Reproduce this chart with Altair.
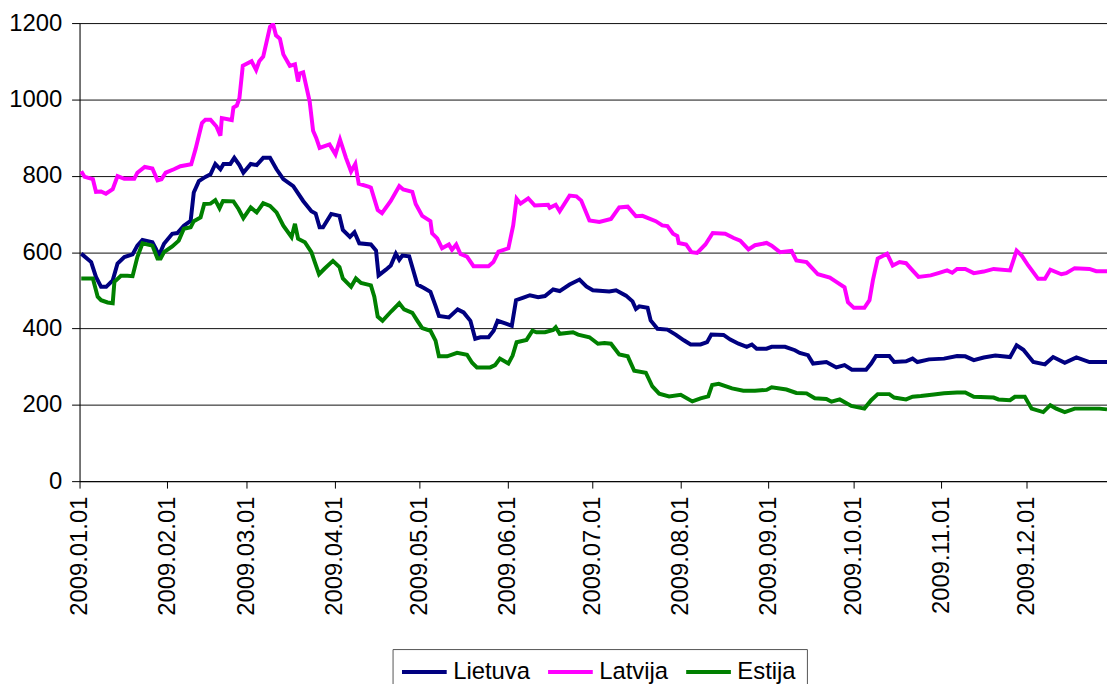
import altair as alt
import pandas as pd

# Day offsets from 2009-01-01 and values
lt_day = [0.6, 4.1, 5.8, 7.6, 9.4, 11.7, 13.4, 15.8, 18.7, 20.4, 22.2, 25.7, 26.9, 28.0, 29.8, 32.7, 34.5, 36.8, 39.2, 40.3,
          42.1, 44.4, 46.2, 47.9, 49.7, 50.8, 53.2, 54.6, 56.4, 57.8, 60.4, 62.5, 64.8, 67.2, 69.5, 71.9, 75.4, 78.9, 81.8, 83.3,
          84.7, 85.9, 88.8, 91.7, 92.9, 95.4, 97.0, 98.7, 102.8, 104.6, 105.5, 108.1, 109.8, 111.6, 112.8, 113.9, 116.3, 117.4, 119.2, 121.5,
          123.8, 125.6, 126.8, 130.3, 133.4, 135.5, 137.9, 139.6, 141.4, 144.3, 146.1, 147.5, 150.2, 152.5, 154.0, 156.6, 158.9, 161.8, 164.2, 167.1,
          169.4, 172.9, 176.4, 178.8, 181.1, 186.9, 189.3, 192.8, 195.1, 196.3, 197.5, 200.4, 201.5, 203.9, 207.4, 210.3, 213.2, 215.6, 219.1, 221.4,
          222.9, 227.2, 229.6, 232.5, 235.4, 237.2, 238.9, 242.4, 244.2, 248.9, 252.4, 254.1, 257.0, 258.8, 263.5, 267.0, 269.9, 272.5, 277.5, 279.3,
          281.0, 285.7, 287.4, 291.6, 293.9, 295.6, 299.7, 305.0, 309.6, 312.5, 315.5, 319.0, 323.1, 328.3, 330.6, 333.0, 336.5, 340.6, 343.5, 347.6,
          351.7, 356.3, 362.5]
lt_val = [596, 574, 535, 509, 509, 526, 570, 587, 594, 617, 632, 626, 609, 591, 622, 648, 650, 669, 682, 756,
          786, 797, 804, 831, 817, 831, 831, 847, 828, 808, 831, 828, 847, 847, 817, 791, 773, 734, 707, 701,
          665, 665, 700, 695, 658, 640, 652, 623, 620, 604, 539, 554, 565, 596, 580, 591, 589, 561, 515, 506,
          496, 459, 433, 429, 450, 442, 420, 373, 377, 377, 394, 420, 413, 407, 474, 481, 487, 482, 485, 502,
          498, 515, 528, 510, 500, 497, 500, 486, 471, 451, 458, 454, 421, 399, 397, 384, 369, 358, 358, 364,
          384, 383, 371, 360, 352, 358, 347, 347, 352, 352, 343, 336, 330, 308, 312, 298, 304, 292, 292, 308,
          328, 328, 312, 314, 321, 312, 319, 321, 328, 327, 317, 324, 329, 325, 356, 344, 312, 306, 325, 310,
          324, 312, 312]

lv_day = [0.6, 1.8, 4.7, 5.8, 7.6, 9.3, 11.7, 13.4, 15.8, 19.3, 20.4, 23.0, 25.7, 27.5, 28.9, 30.4, 33.3, 35.6, 39.4, 40.9,
          43.2, 44.4, 46.2, 48.3, 49.7, 50.2, 53.7, 54.3, 55.5, 56.4, 57.6, 60.7, 62.3, 63.4, 64.8, 67.2, 68.3, 69.3, 70.7, 71.9,
          74.2, 76.0, 77.1, 77.7, 78.9, 81.2, 82.4, 83.5, 84.7, 88.2, 90.3, 91.9, 94.0, 95.8, 97.3, 98.5, 102.2, 102.8, 105.2, 106.7,
          109.8, 112.8, 114.2, 117.4, 118.6, 120.9, 123.8, 124.4, 126.2, 127.9, 130.3, 131.4, 132.9, 134.4, 136.7, 139.0, 144.3, 146.0, 147.8, 151.3,
          153.0, 154.2, 155.6, 158.3, 160.6, 165.3, 165.9, 168.0, 169.4, 172.9, 175.3, 177.0, 179.9, 183.4, 187.5, 190.4, 193.4, 196.3, 198.6, 203.3,
          205.6, 207.4, 209.4, 210.9, 211.4, 214.0, 215.9, 217.9, 220.8, 223.4, 227.8, 230.8, 233.1, 236.0, 238.3, 242.4, 244.2, 247.1, 251.2, 252.9,
          256.5, 260.5, 264.7, 267.0, 269.9, 271.1, 273.2, 276.9, 278.7, 279.9, 281.6, 284.9, 286.9, 289.3, 291.6, 293.4, 296.0, 300.3, 303.0, 306.1,
          307.9, 309.6, 312.5, 315.5, 319.0, 322.5, 328.3, 330.6, 332.4, 334.7, 338.2, 340.6, 342.5, 346.4, 348.1, 351.1, 356.3, 358.7, 362.5]
lv_val = [812, 797, 791, 758, 759, 753, 765, 799, 792, 792, 808, 823, 819, 788, 791, 808, 817, 825, 830, 869,
          938, 947, 947, 929, 905, 951, 946, 979, 984, 1003, 1088, 1100, 1077, 1100, 1112, 1190, 1197, 1168, 1159, 1118,
          1088, 1092, 1047, 1068, 1071, 994, 918, 899, 873, 882, 856, 895, 847, 811, 831, 779, 771, 769, 710, 702,
          734, 773, 764, 758, 726, 695, 681, 649, 636, 610, 620, 606, 620, 595, 588, 563, 563, 574, 601, 610,
          670, 740, 727, 741, 722, 724, 716, 724, 707, 748, 746, 735, 683, 679, 687, 717, 719, 694, 695, 681,
          670, 668, 648, 642, 624, 620, 600, 598, 620, 650, 648, 637, 630, 607, 618, 624, 617, 600, 603, 578,
          574, 542, 533, 522, 508, 469, 454, 454, 474, 526, 583, 596, 565, 574, 571, 556, 535, 539, 545, 552,
          546, 556, 556, 545, 549, 556, 552, 604, 591, 565, 530, 530, 554, 542, 545, 558, 556, 550, 550]

ee_day = [0.6, 4.7, 6.4, 7.6, 9.9, 11.7, 12.3, 14.6, 16.9, 18.7, 20.4, 22.2, 25.7, 27.5, 28.6, 29.8, 32.7, 35.0, 36.8, 39.2,
          40.3, 42.7, 44.0, 46.2, 47.9, 49.4, 50.6, 54.3, 56.1, 57.8, 60.4, 62.5, 64.8, 67.2, 69.5, 71.9, 74.8, 76.0, 77.1, 79.5,
          81.8, 83.0, 84.5, 86.5, 89.4, 91.7, 92.9, 95.8, 97.5, 99.3, 102.8, 104.0, 105.2, 106.9, 110.0, 112.8, 114.5, 117.4, 119.2, 120.9,
          123.8, 125.6, 126.8, 129.7, 133.2, 136.7, 138.5, 140.2, 144.9, 146.6, 148.3, 151.3, 152.8, 154.2, 157.7, 159.8, 161.2, 164.2, 167.1, 168.0,
          169.4, 174.1, 175.9, 179.9, 182.9, 185.2, 187.5, 190.4, 193.4, 195.7, 199.8, 202.1, 204.5, 208.0, 212.1, 216.2, 219.1, 221.8, 223.2, 225.5,
          230.2, 234.2, 238.3, 242.4, 244.2, 249.4, 252.9, 256.5, 259.4, 263.5, 265.3, 268.2, 272.3, 276.9, 279.3, 281.6, 285.7, 287.4, 291.6, 293.9,
          296.8, 301.4, 305.0, 309.6, 312.5, 315.5, 322.5, 324.2, 328.3, 330.0, 333.5, 335.9, 340.0, 342.5, 344.6, 347.6, 351.1, 359.8, 362.5]
ee_val = [531, 531, 483, 474, 468, 466, 522, 538, 538, 537, 587, 623, 617, 583, 583, 600, 615, 630, 661, 665,
          681, 691, 726, 727, 736, 715, 734, 733, 713, 689, 717, 704, 728, 721, 704, 669, 639, 674, 635, 626,
          600, 574, 542, 557, 577, 561, 531, 509, 531, 519, 513, 483, 431, 420, 445, 466, 450, 441, 420, 401,
          394, 368, 327, 327, 336, 331, 310, 298, 298, 304, 321, 308, 329, 364, 370, 394, 390, 390, 396, 403,
          386, 390, 384, 377, 360, 362, 360, 332, 327, 289, 284, 248, 229, 222, 226, 209, 217, 222, 252, 255,
          243, 237, 237, 239, 246, 240, 231, 230, 217, 215, 208, 214, 197, 190, 212, 228, 228, 219, 214, 221,
          223, 227, 230, 232, 232, 221, 219, 214, 212, 221, 221, 190, 181, 199, 190, 181, 190, 190, 188]

series_names = ["Lietuva", "Latvija", "Estija"]
series_colors = ["#000080", "#FF00FF", "#008000"]
y_ticks = [0, 200, 400, 600, 800, 1000, 1200]

base = pd.Timestamp("2009-01-01", tz="UTC")


def to_ms(d):
    return int((base + pd.Timedelta(days=d)).value // 10**6)


rows = []
for name, days, vals in [("Lietuva", lt_day, lt_val), ("Latvija", lv_day, lv_val), ("Estija", ee_day, ee_val)]:
    for d, v in zip(days, vals):
        rows.append({"series": name, "t": to_ms(d), "value": v})
df = pd.DataFrame(rows)

month_ticks = [int(pd.Timestamp(f"2009-{m:02d}-01", tz="UTC").value // 10**6) for m in range(1, 13)]
x_domain = [to_ms(0), to_ms(362.5)]

FONT = "Liberation Sans"

chart = alt.Chart(df).mark_line(strokeWidth=4, clip=True).encode(
    x=alt.X("t:T", title=None,
            scale=alt.Scale(type="utc", domain=x_domain, nice=False),
            axis=alt.Axis(values=month_ticks, labelExpr="utcFormat(datum.value, '%Y.%m.%d')",
                          labelAngle=270, labelFontSize=24, labelFont=FONT, labelColor="#000",
                          tickSize=7, tickColor="#000", domainColor="#000", labelPadding=8,
                          grid=False, labelOverlap=False, labelFlush=False)),
    y=alt.Y("value:Q", title=None,
            scale=alt.Scale(domain=[0, 1200], nice=False),
            axis=alt.Axis(values=y_ticks, format="d", labelFontSize=24, labelFont=FONT, labelColor="#000",
                          tickSize=8, tickColor="#000", domainColor="#000", labelPadding=10,
                          grid=True, gridColor="#111", gridWidth=1, gridOpacity=1)),
    color=alt.Color("series:N", sort=series_names,
                    scale=alt.Scale(domain=series_names, range=series_colors),
                    legend=alt.Legend(title=None, orient="none", direction="horizontal",
                                      legendX=315, legendY=630,
                                      symbolType="M-2.25,0H2.25", symbolSize=400, symbolStrokeWidth=4,
                                      symbolOffset=9,
                                      labelFontSize=24, labelFont=FONT, labelColor="#000",
                                      labelOffset=17, columnPadding=9, padding=11,
                                      strokeColor="#555", fillColor="#fff")),
    detail="series:N",
).properties(
    width=1034, height=461,
    autosize=alt.AutoSizeParams(type="none"),
    padding={"left": 72, "top": 13, "right": 0, "bottom": 205},
).configure_view(stroke=None).configure(font=FONT)

chart.save("out.html", embed_options={"renderer": "svg", "actions": False})
